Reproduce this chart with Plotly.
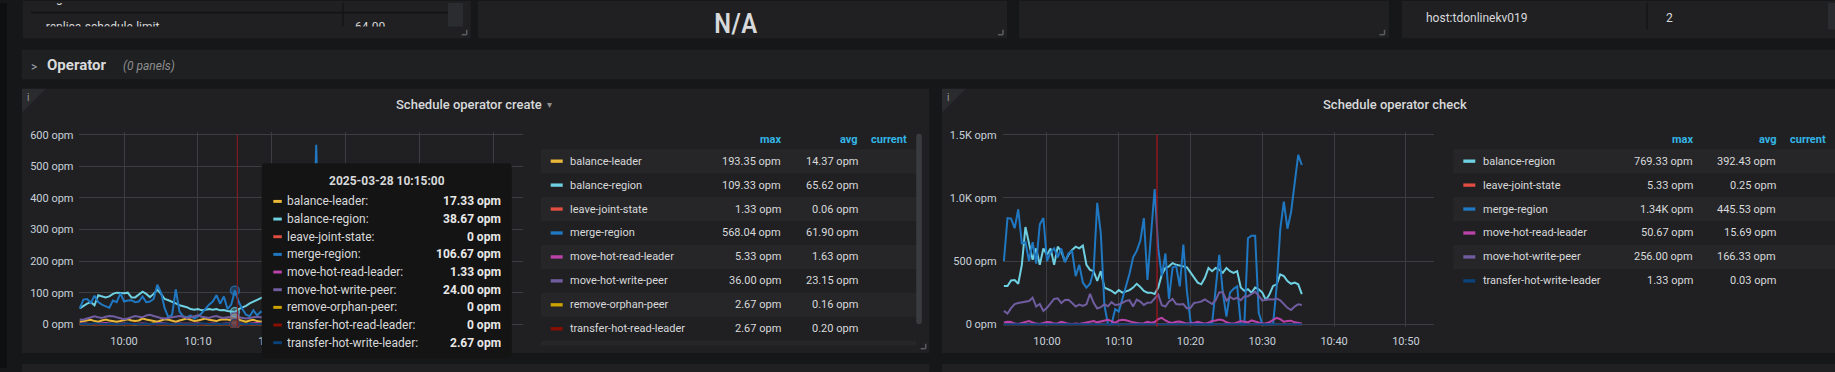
import plotly.graph_objects as go
import pandas as pd

W, H = 1835, 372
FONT = "Roboto, 'Noto Sans', 'DejaVu Sans', sans-serif"
NARROW = "'Liberation Sans Narrow', 'Roboto Condensed', Roboto, sans-serif"

# ---------------- sampling grid ----------------
SAMPLE_START = "2025-03-28 09:54:00"
SAMPLE_COUNT = 84
SAMPLE_FREQ = "30s"
HOVER_INDEX = 42
CROSSHAIR_TIME = "2025-03-28 10:15:20"
X_RANGE = ["2025-03-28 09:53:50", "2025-03-28 10:53:55"]
X_TICKS = ["2025-03-28 10:00:00", "2025-03-28 10:10:00", "2025-03-28 10:20:00",
           "2025-03-28 10:30:00", "2025-03-28 10:40:00", "2025-03-28 10:50:00"]
X_TICKTEXT = ["10:00", "10:10", "10:20", "10:30", "10:40", "10:50"]
# labels hidden underneath the tooltip in the left panel
L_X_TICKTEXT = ["10:00", "10:10", "10:20", "", "", ""]

COLORS = {
    "balance-leader": "#EAB839",
    "balance-region": "#6ED0E0",
    "leave-joint-state": "#E24D42",
    "merge-region": "#1F78C1",
    "move-hot-read-leader": "#BA43A9",
    "move-hot-write-peer": "#705DA0",
    "remove-orphan-peer": "#CCA300",
    "transfer-hot-read-leader": "#890F02",
    "transfer-hot-write-leader": "#0A437C",
}

# ---------------- left panel: Schedule operator create ----------------
L_balance_leader = [
    8, 10, 12, 14, 10, 8, 12, 15, 12, 10,
    8, 10, 14, 16, 12, 10, 12, 18, 15, 12,
    10, 8, 12, 16, 14, 10, 8, 12, 15, 18,
    14, 10, 12, 16, 18, 14, 12, 10, 14, 16,
    15, 12, 17.33, 14, 10, 8, 12, 14, 10, 8,
    12, 10, 14, 12, 16, 20, 18, 14, 12, 40,
    193.35, 60, 16, 12, 10, 14, 12, 10, 8, 12,
    14, 10, 12, 16, 14, 10, 8, 12, 10, 12,
    14, 12, 10, 12]
L_balance_region = [
    50, 58, 65, 70, 60, 92, 88, 85, 88, 96,
    100, 98, 98, 100, 85, 85, 95, 103, 96, 86,
    96, 109.33, 96, 80, 76, 72, 66, 60, 58, 54,
    48, 46, 48, 44, 46, 48, 46, 48, 44, 45,
    42, 40, 38.67, 48, 52, 58, 66, 72, 78, 84,
    88, 90, 85, 80, 75, 70, 72, 68, 65, 70,
    75, 72, 68, 64, 60, 58, 62, 66, 70, 68,
    64, 60, 56, 58, 62, 60, 55, 52, 50, 54,
    58, 56, 52, 50]
L_leave_joint_state = [
    0, 0, 0, 0, 0, 0, 0, 0, 0, 0,
    1.33, 0, 0, 0, 0, 0, 0, 0, 0, 0,
    0, 0, 0, 0, 0, 0, 0, 0, 0, 0,
    1.33, 0, 0, 0, 0, 0, 0, 0, 0, 0,
    0, 0, 0, 0, 0, 0, 0, 0, 0, 0,
    0, 0, 0, 0, 0, 1.33, 0, 0, 0, 0,
    0, 0, 0, 0, 0, 0, 0, 0, 0, 0,
    0, 0, 0, 0, 0, 1.33, 0, 0, 0, 0,
    0, 0, 0, 0]
L_merge_region = [
    50, 78, 80, 68, 90, 70, 62, 58, 52, 75,
    70, 98, 72, 75, 76, 70, 72, 88, 70, 72,
    80, 125, 100, 50, 22, 30, 110, 40, 25, 22,
    28, 18, 25, 35, 50, 62, 72, 92, 65, 88,
    48, 62, 106.67, 72, 48, 30, 25, 44, 28, 40,
    35, 40, 60, 80, 50, 30, 70, 90, 60, 45,
    80, 100, 70, 120, 568.04, 90, 60, 40, 30, 50,
    70, 80, 60, 40, 30, 45, 60, 75, 55, 40,
    40, 35, 50, 45]
L_move_hot_read_leader = [
    1.33, 2.67, 1.33, 0, 0, 1.33, 2.67, 4, 2.67, 1.33,
    0, 1.33, 2.67, 1.33, 0, 0, 1.33, 2.67, 1.33, 0,
    1.33, 2.67, 4, 2.67, 1.33, 0, 1.33, 2.67, 1.33, 1.33,
    0, 1.33, 2.67, 1.33, 0, 1.33, 2.67, 1.33, 0, 1.33,
    2.67, 1.33, 1.33, 2.67, 1.33, 0, 1.33, 2.67, 4, 2.67,
    1.33, 0, 1.33, 2.67, 5.33, 2.67, 1.33, 0, 1.33, 2.67,
    1.33, 0, 1.33, 2.67, 1.33, 0, 1.33, 2.67, 4, 2.67,
    1.33, 0, 1.33, 1.33, 2.67, 1.33, 0, 1.33, 2.67, 1.33,
    0, 1.33, 2.67, 1.33]
L_move_hot_write_peer = [
    15, 14, 18, 22, 25, 22, 20, 24, 26, 25,
    22, 18, 16, 18, 22, 26, 24, 22, 28, 30,
    26, 22, 20, 18, 20, 22, 24, 26, 24, 20,
    22, 26, 28, 24, 22, 20, 24, 26, 22, 20,
    22, 24, 24.00, 22, 20, 18, 20, 22, 24, 22,
    20, 22, 26, 30, 36, 32, 28, 24, 22, 26,
    28, 24, 20, 22, 26, 28, 24, 22, 20, 24,
    26, 28, 30, 26, 22, 24, 26, 22, 20, 24,
    26, 28, 24, 22]
L_remove_orphan_peer = [
    0, 0, 0, 0, 0, 0, 0, 0, 0, 0,
    0, 0, 0, 0, 0, 0, 0, 0, 0, 0,
    2.67, 0, 0, 0, 0, 0, 0, 0, 0, 0,
    0, 0, 0, 0, 0, 0, 0, 0, 0, 0,
    0, 0, 0, 0, 0, 2.67, 0, 0, 0, 0,
    0, 0, 0, 0, 0, 0, 0, 0, 0, 0,
    0, 0, 0, 0, 0, 0, 2.67, 0, 0, 0,
    2.67, 0, 0, 0, 0, 0, 0, 0, 2.67, 0,
    0, 0, 0, 0]
L_transfer_hot_read_leader = [
    0, 0, 0, 0, 0, 1.33, 0, 0, 0, 0,
    0, 0, 0, 0, 0, 2.67, 0, 0, 0, 0,
    0, 0, 0, 0, 0, 1.33, 0, 0, 0, 0,
    0, 0, 0, 0, 0, 2.67, 0, 0, 0, 0,
    0, 0, 0, 0, 0, 0, 0, 0, 1.33, 0,
    0, 0, 0, 0, 0, 2.67, 0, 0, 0, 0,
    0, 0, 1.33, 0, 0, 0, 0, 0, 0, 0,
    2.67, 0, 0, 0, 0, 0, 0, 1.33, 0, 0,
    0, 0, 0, 0]
L_transfer_hot_write_leader = [
    0, 1.33, 0, 0, 2.67, 1.33, 0, 0, 1.33, 0,
    0, 0, 1.33, 2.67, 1.33, 0, 0, 0, 1.33, 0,
    0, 1.33, 2.67, 1.33, 0, 0, 0, 1.33, 0, 0,
    1.33, 0, 0, 2.67, 1.33, 0, 0, 1.33, 0, 0,
    1.33, 0, 2.67, 1.33, 0, 0, 1.33, 0, 0, 1.33,
    0, 0, 1.33, 2.67, 0, 0, 1.33, 0, 0, 0,
    1.33, 0, 0, 2.67, 1.33, 0, 0, 0, 1.33, 0,
    0, 1.33, 0, 0, 0, 2.67, 1.33, 0, 0, 1.33,
    0, 0, 1.33, 0]

L_NAMES = ["balance-leader", "balance-region", "leave-joint-state", "merge-region",
           "move-hot-read-leader", "move-hot-write-peer", "remove-orphan-peer",
           "transfer-hot-read-leader", "transfer-hot-write-leader"]
L_VALUES = [L_balance_leader, L_balance_region, L_leave_joint_state, L_merge_region,
            L_move_hot_read_leader, L_move_hot_write_peer, L_remove_orphan_peer,
            L_transfer_hot_read_leader, L_transfer_hot_write_leader]
L_MAX = [193.35, 109.33, 1.33, 568.04, 5.33, 36.00, 2.67, 2.67, 2.67]
L_AVG = [14.37, 65.62, 0.06, 61.90, 1.63, 23.15, 0.16, 0.20, 0.85]
L_YTICKS = [0, 100, 200, 300, 400, 500, 600]
L_YTICKTEXT = ["0 opm", "100 opm", "200 opm", "300 opm", "400 opm", "500 opm", "600 opm"]

# ---------------- right panel: Schedule operator check ----------------
R_balance_region = [
    303, 303, 347, 350, 320, 470, 769.33, 627, 510, 600,
    470, 600, 550, 600, 470, 614, 575, 497, 550, 588,
    614, 600, 622, 470, 430, 420, 342, 420, 290, 277,
    264, 243, 270, 250, 260, 270, 290, 320, 295, 264,
    250, 250, 240, 290, 394, 445, 458, 484, 470, 466,
    458, 450, 407, 368, 329, 316, 368, 445, 420, 445,
    432, 407, 445, 420, 407, 420, 290, 264, 277, 250,
    290, 277, 250, 192, 238, 303, 316, 394, 381, 342,
    320, 329, 316, 238]
R_leave_joint_state = [
    0, 0, 0, 0, 0, 0, 0, 0, 0, 0,
    0, 0, 1.33, 0, 0, 0, 0, 0, 0, 0,
    2.67, 0, 0, 0, 0, 0, 0, 0, 0, 0,
    2.67, 0, 0, 0, 0, 0, 0, 0, 0, 0,
    0, 0, 0, 0, 5.33, 0, 0, 0, 0, 0,
    0, 0, 0, 0, 0, 0, 0, 0, 1.33, 0,
    0, 0, 0, 0, 0, 0, 0, 0, 0, 0,
    2.67, 0, 0, 0, 0, 0, 0, 1.33, 0, 0,
    0, 0, 0, 0]
R_merge_region = [
    500, 840, 835, 760, 910, 640, 650, 500, 650, 480,
    790, 840, 500, 570, 600, 530, 600, 490, 560, 580,
    380, 470, 330, 290, 320, 420, 960, 720, 150, 0,
    0, 120, 100, 200, 300, 400, 530, 580, 660, 840,
    350, 720, 1070, 600, 380, 560, 200, 450, 460, 300,
    630, 260, 20, 0, 0, 0, 0, 0, 0, 280,
    550, 250, 60, 250, 280, 300, 0, 0, 680, 700,
    700, 90, 0, 0, 0, 0, 300, 750, 970, 756,
    886, 1120, 1340, 1260]
R_move_hot_read_leader = [
    13, 20, 18, 5, 2, 8, 20, 25, 15, 5,
    2, 10, 18, 15, 5, 8, 20, 12, 3, 2,
    5, 2, 8, 18, 20, 25, 15, 20, 28, 35,
    25, 10, 30, 36, 32, 22, 15, 10, 5, 8,
    20, 12, 18, 40, 50.67, 30, 15, 10, 20, 22,
    15, 5, 8, 10, 20, 15, 5, 12, 25, 30,
    38, 32, 15, 8, 5, 15, 25, 20, 15, 30,
    22, 10, 5, 8, 15, 35, 50, 40, 20, 25,
    28, 15, 10, 5]
R_move_hot_write_peer = [
    106, 85, 127, 160, 168, 175, 179, 184, 210, 140,
    160, 105, 130, 170, 200, 205, 168, 192, 194, 168,
    140, 155, 145, 158, 240, 170, 125, 135, 158, 142,
    175, 152, 156, 170, 185, 190, 140, 195, 179, 153,
    170, 171, 200, 235, 150, 140, 180, 200, 160, 156,
    160, 125, 130, 168, 173, 180, 196, 176, 160, 190,
    252, 255, 186, 216, 199, 210, 190, 220, 222, 240,
    256, 225, 187, 195, 198, 195, 203, 190, 158, 130,
    112, 140, 158, 153]
R_transfer_hot_write_leader = [
    0, 0, 0, 0, 0, 0, 0, 0, 0, 0,
    0, 0, 0, 0, 0, 0, 0, 0, 0, 0,
    0, 0, 0, 0, 0, 0, 0, 0, 0, 0,
    0, 0, 0, 0, 0, 0, 0, 0, 0, 0,
    1.33, 0, 0, 0, 0, 0, 0, 0, 0, 0,
    0, 0, 0, 0, 0, 0, 0, 0, 0, 0,
    0, 0, 0, 0, 0, 1.33, 0, 0, 0, 0,
    0, 0, 0, 0, 0, 0, 0, 0, 0, 0,
    0, 0, 0, 0]

R_NAMES = ["balance-region", "leave-joint-state", "merge-region",
           "move-hot-read-leader", "move-hot-write-peer", "transfer-hot-write-leader"]
R_VALUES = [R_balance_region, R_leave_joint_state, R_merge_region,
            R_move_hot_read_leader, R_move_hot_write_peer, R_transfer_hot_write_leader]
R_MAX = [769.33, 5.33, 1340, 50.67, 256.00, 1.33]
R_AVG = [392.43, 0.25, 445.53, 15.69, 166.33, 0.03]
R_YTICKS = [0, 500, 1000, 1500]
R_YTICKTEXT = ["0 opm", "500 opm", "1.0K opm", "1.5K opm"]

# ---------------- top row (partially scrolled panels) ----------------
A_ROW_NAMES = ["region-schedule-limit", "replica-schedule-limit"]
A_ROW_VALUES = ["", "64.00"]
D_ROW_NAME = "host:tdonlinekv019"
D_ROW_VALUE = "2"

# ---------------- styling ----------------
PAGE = "#161719"
STRIP = "#0e0f10"
PANEL = "#202023"
ROW = "#1f2022"
BAND = "#262629"
DIVIDER = "#141416"
GRID = "#3c3d40"
TEXT = "#d8d9da"
TICK = "#c7d0d9"
MUTED = "#8e8e8e"
HEAD = "#33b5e5"
TIP_BG = "#141414"


def px(x):
    return x / W


def py(y):
    return 1 - y / H


def rgba(hexcol, a):
    h = hexcol.lstrip("#")
    return f"rgba({int(h[0:2],16)},{int(h[2:4],16)},{int(h[4:6],16)},{a})"


def fmt_opm(v):
    if v == 0:
        return "0 opm"
    if v >= 1000:
        return f"{v/1000:.2f}K opm"
    return f"{v:.2f} opm"


def rect(x0, y0, x1, y1, fill, layer="below"):
    return dict(type="rect", xref="paper", yref="paper", x0=px(x0), x1=px(x1),
                y0=py(y1), y1=py(y0), fillcolor=fill, line=dict(width=0), layer=layer)


def seg(x0, y0, x1, y1, color, width=1, layer="below"):
    return dict(type="line", xref="paper", yref="paper", x0=px(x0), x1=px(x1),
                y0=py(y0), y1=py(y1), line=dict(color=color, width=width), layer=layer)


def poly(points, fill, layer="below"):
    path = "M " + " L ".join(f"{px(x):.6f},{py(y):.6f}" for x, y in points) + " Z"
    return dict(type="path", xref="paper", yref="paper", path=path,
                fillcolor=fill, line=dict(width=0), layer=layer)


def rrect(x0, y0, x1, y1, r, fill, layer="below"):
    def p(x, y):
        return f"{px(x):.6f},{py(y):.6f}"
    path = (f"M {p(x0+r,y0)} L {p(x1-r,y0)} Q {p(x1,y0)} {p(x1,y0+r)} "
            f"L {p(x1,y1-r)} Q {p(x1,y1)} {p(x1-r,y1)} L {p(x0+r,y1)} "
            f"Q {p(x0,y1)} {p(x0,y1-r)} L {p(x0,y0+r)} Q {p(x0,y0)} {p(x0+r,y0)} Z")
    return dict(type="path", xref="paper", yref="paper", path=path,
                fillcolor=fill, line=dict(width=0), layer=layer)


def txt(x, y, s, size=12, color=TEXT, anchor="left", weight=None, height=None, family=FONT):
    f = dict(size=size, color=color, family=family)
    if weight is not None:
        f["weight"] = weight
    a = dict(x=px(x), y=py(y), xref="paper", yref="paper", text=s, showarrow=False,
             xanchor=anchor, yanchor="middle", font=f, borderpad=0)
    if height is not None:
        a["height"] = height
    return a


times = pd.date_range(SAMPLE_START, periods=SAMPLE_COUNT, freq=SAMPLE_FREQ)

fig = go.Figure()

# series lines
for name, vals in zip(L_NAMES, L_VALUES):
    fig.add_trace(go.Scatter(x=times, y=vals, mode="lines", xaxis="x", yaxis="y",
                             line=dict(color=COLORS[name], width=2), showlegend=False,
                             hoverinfo="skip"))
for name, vals in zip(R_NAMES, R_VALUES):
    fig.add_trace(go.Scatter(x=times, y=vals, mode="lines", xaxis="x2", yaxis="y2",
                             line=dict(color=COLORS[name], width=2), showlegend=False,
                             hoverinfo="skip"))

# hover points in left panel
hx = [times[HOVER_INDEX]] * len(L_NAMES)
hy = [vals[HOVER_INDEX] for vals in L_VALUES]
fig.add_trace(go.Scatter(
    x=hx, y=hy, mode="markers", xaxis="x", yaxis="y", showlegend=False, hoverinfo="skip",
    marker=dict(size=9, color=[rgba(COLORS[n], 0.35) for n in L_NAMES],
                line=dict(width=1.5, color=[rgba(COLORS[n], 0.7) for n in L_NAMES]))))

# clipped table text in the top-left panel
A_ROW_Y = [-4.0, 25.0]
fig.add_trace(go.Scatter(x=[45.7] * len(A_ROW_NAMES), y=A_ROW_Y, mode="text",
                         text=A_ROW_NAMES, textposition="middle right", xaxis="x3", yaxis="y3",
                         textfont=dict(size=12, color=TEXT, family=FONT), cliponaxis=True,
                         showlegend=False, hoverinfo="skip"))
fig.add_trace(go.Scatter(x=[355] * len(A_ROW_VALUES), y=A_ROW_Y, mode="text",
                         text=A_ROW_VALUES, textposition="middle right", xaxis="x3", yaxis="y3",
                         textfont=dict(size=12, color=TEXT, family=FONT), cliponaxis=True,
                         showlegend=False, hoverinfo="skip"))

# ---------------- shapes ----------------
shapes = []
shapes.append(rect(0, 0, 7, H, STRIP))
# top row panels
shapes.append(rect(22.7, -2, 470.7, 36, PANEL))
shapes.append(rect(478, -2, 1007, 36, PANEL))
shapes.append(rect(1019, -2, 1389, 36, PANEL))
shapes.append(rect(1402, -2, 1845, 36, PANEL))
shapes.append(rect(31, 9, 448, 10.8, DIVIDER))
shapes.append(seg(343, 0, 343, 24, DIVIDER, 1.5))
shapes.append(rect(448, 0, 463, 24, "#2b2c2f"))
shapes.append(seg(1647, 0, 1647, 27, DIVIDER, 1.5))
shapes.append(rect(1828, 0, 1835, 27, "#2b2c2f"))
# row bar
shapes.append(rect(21.7, 47.7, 1845, 77.7, ROW))
# bottom panels
shapes.append(rect(22, 87.5, 929.3, 356.7, PANEL))
shapes.append(rect(942, 87.5, 1845, 356.7, PANEL))
shapes.append(rect(22, 368, 929.3, 376, PANEL))
shapes.append(rect(942, 368, 1845, 376, PANEL))
# info corners
shapes.append(poly([(22, 87.5), (46, 87.5), (22, 111.5)], "#2a2b2e"))
shapes.append(poly([(942, 87.5), (966, 87.5), (942, 111.5)], "#2a2b2e"))
# resize corners
for cx, cy in [(466.7, 32.3), (1003, 32.3), (1384.5, 32.3), (925.7, 352.3)]:
    shapes.append(seg(cx - 5, cy, cx, cy, "#5c5d61", 1.5))
    shapes.append(seg(cx, cy - 5, cx, cy, "#5c5d61", 1.5))

# legend tables
ROW_Y0, ROW_H = 149.0, 24.4
for k in range(len(L_NAMES)):
    top = ROW_Y0 + k * ROW_H
    if k % 2 == 0:
        shapes.append(rect(541, top, 916, min(top + ROW_H, 349), BAND))
for k in range(len(R_NAMES)):
    top = ROW_Y0 + k * ROW_H
    if k % 2 == 0:
        shapes.append(rect(1453.3, top, 1845, top + ROW_H, BAND))
for k, name in enumerate(L_NAMES):
    cy = ROW_Y0 + k * ROW_H + ROW_H / 2
    if cy + 6 < 349:
        shapes.append(rect(550.7, cy - 1.7, 562.7, cy + 1.7, COLORS[name]))
for k, name in enumerate(R_NAMES):
    cy = ROW_Y0 + k * ROW_H + ROW_H / 2
    shapes.append(rect(1463.3, cy - 1.7, 1475.3, cy + 1.7, COLORS[name]))
shapes.append(rrect(916.2, 133.3, 921.8, 327.3, 2.5, "#3a3b3f"))

# crosshair lines
shapes.append(dict(type="line", xref="x", yref="y", x0=CROSSHAIR_TIME, x1=CROSSHAIR_TIME,
                   y0=-8, y1=600, line=dict(color="#8d1b20", width=1), layer="above"))
shapes.append(dict(type="line", xref="x2", yref="y2", x0=CROSSHAIR_TIME, x1=CROSSHAIR_TIME,
                   y0=-20, y1=1500, line=dict(color="#c8121c", width=1), layer="above"))

# tooltip
TIP_X0, TIP_X1, TIP_Y0, TIP_Y1 = 261.7, 511.7, 163.3, 361.5
shapes.append(rrect(TIP_X0, TIP_Y0, TIP_X1, TIP_Y1, 4, TIP_BG, layer="above"))
TIP_ROW0, TIP_STEP = 202.2, 18.0
for k, name in enumerate(L_NAMES):
    cy = TIP_ROW0 + k * TIP_STEP
    shapes.append(rect(273.3, cy - 1.5, 281.8, cy + 1.5, COLORS[name], layer="above"))

# ---------------- annotations ----------------
ann = []
ann.append(txt(736, 20.5, "N/A", size=28, color=TEXT, anchor="center", weight=500, family=NARROW))
ann.append(txt(1425, 15.5, D_ROW_NAME, size=12))
ann.append(txt(1665, 15.5, D_ROW_VALUE, size=12))
ann.append(txt(30, 65, "&gt;", size=12, color="#9fa7b3"))
ann.append(txt(45.7, 63.3, "<b>Operator</b>", size=15, color=TEXT))
ann.append(txt(121.7, 64.5, "<i>(0 panels)</i>", size=12, color=MUTED))
ann.append(txt(27.5, 96.5, "i", size=10, color="#9a9a9a", anchor="center"))
ann.append(txt(947.5, 96.5, "i", size=10, color="#9a9a9a", anchor="center"))
ann.append(txt(469, 103.5, "Schedule operator create", size=13, color=TEXT, anchor="center", weight=500))
ann.append(txt(549, 103.5, "▾", size=10, color=MUTED, anchor="center"))
ann.append(txt(1395, 103.5, "Schedule operator check", size=13, color=TEXT, anchor="center", weight=500))

# legend headers
for x, h in [(781.7, "max"), (858.7, "avg"), (907.7, "current")]:
    ann.append(txt(x, 139.3, f"<b>{h}</b>", size=11, color=HEAD, anchor="right"))
for x, h in [(1694.3, "max"), (1777.7, "avg"), (1826.7, "current")]:
    ann.append(txt(x, 139.3, f"<b>{h}</b>", size=11, color=HEAD, anchor="right"))
# legend rows
for k, name in enumerate(L_NAMES):
    cy = ROW_Y0 + k * ROW_H + ROW_H / 2
    if cy + 6 >= 349:
        continue
    ann.append(txt(569.3, cy, name, size=11))
    ann.append(txt(781.7, cy, fmt_opm(L_MAX[k]), size=11, anchor="right"))
    ann.append(txt(858.7, cy, fmt_opm(L_AVG[k]), size=11, anchor="right"))
for k, name in enumerate(R_NAMES):
    cy = ROW_Y0 + k * ROW_H + ROW_H / 2
    ann.append(txt(1482.3, cy, name, size=11))
    ann.append(txt(1693.5, cy, fmt_opm(R_MAX[k]), size=11, anchor="right"))
    ann.append(txt(1777.0, cy, fmt_opm(R_AVG[k]), size=11, anchor="right"))

# tooltip text
ann.append(txt((TIP_X0 + TIP_X1) / 2, 181, "<b>" + times[HOVER_INDEX].strftime("%Y-%m-%d %H:%M:%S") + "</b>",
               size=12, color=TEXT, anchor="center", height=16))
for k, name in enumerate(L_NAMES):
    cy = TIP_ROW0 + k * TIP_STEP
    ann.append(txt(285.5, cy, name + ":", size=12, color=TEXT, height=16))
    ann.append(txt(502.3, cy, "<b>" + fmt_opm(L_VALUES[k][HOVER_INDEX]) + "</b>", size=12,
                   color="#e8e8e8", anchor="right", height=16))

# ---------------- axes ----------------
Y_BOTTOM, Y_TOP = 330.62, 130.98
xcommon = dict(type="date", range=X_RANGE, tickvals=X_TICKS,
               showgrid=True, gridcolor=GRID, gridwidth=1, zeroline=False, showline=False,
               ticks="", tickfont=dict(size=11, color=TICK, family=FONT), fixedrange=True,
               ticklabelstandoff=6)
ycommon = dict(showgrid=True, gridcolor=GRID, gridwidth=1, zeroline=False, showline=False,
               ticks="", tickfont=dict(size=11, color=TICK, family=FONT), fixedrange=True)

fig.update_layout(
    width=W, height=H, margin=dict(l=0, r=0, t=0, b=0),
    paper_bgcolor=PAGE, plot_bgcolor="rgba(0,0,0,0)",
    font=dict(family=FONT, color=TEXT),
    hovermode=False, showlegend=False,
    xaxis=dict(domain=[px(78.5), px(522.5)], anchor="y", ticktext=L_X_TICKTEXT, **xcommon),
    yaxis=dict(domain=[py(Y_BOTTOM), py(Y_TOP)], anchor="x", range=[-10, 610],
               tickvals=L_YTICKS, ticktext=L_YTICKTEXT, ticklabelstandoff=4, **ycommon),
    xaxis2=dict(domain=[px(1002.7), px(1434)], anchor="y2", ticktext=X_TICKTEXT, **xcommon),
    yaxis2=dict(domain=[py(Y_BOTTOM), py(Y_TOP)], anchor="x2", range=[-25, 1525],
                tickvals=R_YTICKS, ticktext=R_YTICKTEXT, ticklabelstandoff=5, **ycommon),
    xaxis3=dict(domain=[px(22.7), px(448)], range=[22.7, 448], visible=False,
                anchor="y3", fixedrange=True),
    yaxis3=dict(domain=[py(24), 1.0], range=[24, 0], visible=False,
                anchor="x3", fixedrange=True),
    shapes=shapes, annotations=ann,
)

fig.write_html("out.html", config={"displayModeBar": False},
               post_script="document.body.style.margin='0px';document.body.style.overflow='hidden';")
